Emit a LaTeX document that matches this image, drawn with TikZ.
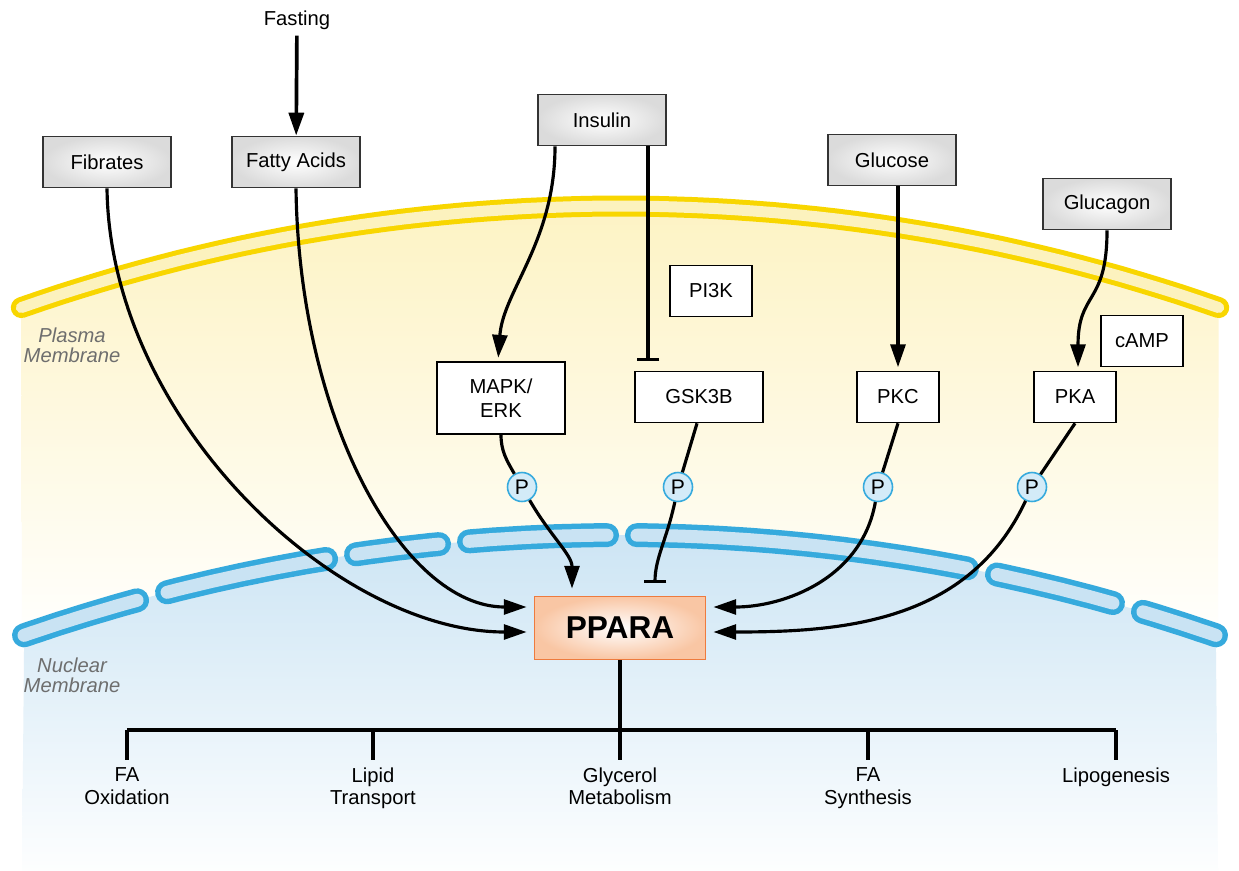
\documentclass[tikz,border=0pt]{standalone}
\usepackage{fontspec}
\setmainfont{Liberation Sans}
\usetikzlibrary{arrows.meta,calc}

\definecolor{plasma}{HTML}{F8D600}
\definecolor{plasmain}{HTML}{FCF2BE}
\definecolor{plasmabg}{HTML}{FDF3C4}
\definecolor{nucline}{HTML}{36AADD}
\definecolor{nucin}{HTML}{C9E3F3}
\definecolor{nucbg}{HTML}{CDE5F4}
\definecolor{pfill}{HTML}{D3EBF8}
\definecolor{pparaline}{HTML}{EE7B3E}
\definecolor{pparafill}{HTML}{F9C6A4}
\definecolor{memtext}{HTML}{6E6E6E}

\tikzset{
  stimbox/.style={draw=black!80, line width=1.1pt, inner color=white,
    outer color=black!14, minimum width=2.56cm, minimum height=1.02cm,
    font=\fontsize{11.5}{13}\selectfont},
  kinbox/.style={draw=black, line width=0.9pt, fill=white, align=center,
    minimum width=1.64cm, minimum height=1.02cm,
    font=\fontsize{11.5}{14}\selectfont},
  phos/.style={circle, draw=nucline, line width=0.9pt, fill=pfill,
    minimum size=0.58cm, inner sep=0pt, font=\fontsize{12}{12}\selectfont},
  ppbox/.style={draw=pparaline, line width=1pt, inner color=white,
    outer color=pparafill, minimum width=3.42cm, minimum height=1.26cm,
    font=\bfseries\fontsize{18}{20}\selectfont},
  memlabel/.style={align=center, text=memtext,
    font=\itshape\fontsize{11.5}{11.5}\selectfont},
  outlabel/.style={anchor=north, align=center, inner sep=4pt,
    font=\fontsize{11.5}{13}\selectfont},
  link/.style={line width=1.8pt},
  act/.style={link, -{Triangle[length=13pt,width=8.5pt]}},
  inh/.style={link, -{Bar[width=13pt]}},
  barline/.style={line width=2.2pt},
  plasmamem/.style={draw=plasma, line width=0.42cm, line cap=round},
  plasmamemin/.style={draw=plasmain, line width=0.22cm, line cap=round},
  nucmem/.style={draw=nucline, line width=0.48cm, line cap=round},
  nucmemin/.style={draw=nucin, line width=0.26cm, line cap=round},
}

\begin{document}
\begin{tikzpicture}[x=0.02cm,y=-0.02cm]
  \useasboundingbox (0,0) rectangle (1239,871);
  \fill[white] (0,0) rectangle (1239,871);

  % cytoplasm and nucleus
  \shade[top color=plasmabg, bottom color=white]
    plot[domain=-19.25:19.25,samples=60] ({620+1816*sin(\x)},{2022-1816*cos(\x)})
    -- (1218,650) -- (22,650) -- cycle;
  \shade[top color=nucbg, bottom color=white!96!nucbg]
    plot[domain=-19.1:19.1,samples=60] ({620+1821*sin(\x)},{2356-1821*cos(\x)})
    -- (1218,871) -- (22,871) -- cycle;

  % plasma membrane
  \draw[plasmamem] plot[domain=-19.25:19.25,samples=60] ({620+1816*sin(\x)},{2022-1816*cos(\x)});
  \draw[plasmamemin] plot[domain=-19.25:19.25,samples=60] ({620+1816*sin(\x)},{2022-1816*cos(\x)});

  % nuclear membrane, in pieces
  \foreach \a/\b in {24/137,167/326,356/439,469/607,637/967,997/1113,1143/1216}{
    \pgfmathsetmacro\ta{asin((\a-620)/1821)}
    \pgfmathsetmacro\tb{asin((\b-620)/1821)}
    \draw[nucmem] plot[domain=\ta:\tb,samples=30] ({620+1821*sin(\x)},{2356-1821*cos(\x)});
    \draw[nucmemin] plot[domain=\ta:\tb,samples=30] ({620+1821*sin(\x)},{2356-1821*cos(\x)});
  }

  \node[memlabel] (plabel) at (72,345) {Plasma\\Membrane};
  \node[memlabel] (nlabel) at (72,675) {Nuclear\\Membrane};

  % stimuli
  \node[font=\fontsize{11.5}{13}\selectfont] (fasting) at (297,20) {Fasting};
  \node[stimbox] (fibrates) at (107,162) {Fibrates};
  \node[stimbox] (fatty) at (296,162) {Fatty Acids};
  \node[stimbox] (insulin) at (602,120) {Insulin};
  \node[stimbox] (glucose) at (892,160) {Glucose};
  \node[stimbox] (glucagon) at (1107,204) {Glucagon};

  % kinases
  \node[kinbox] (pi3k) at (711,291) {PI3K};
  \node[kinbox] (camp) at (1142,341) {cAMP};
  \node[kinbox, minimum width=2.56cm, minimum height=1.44cm] (mapk) at (501,398) {MAPK/\\ERK};
  \node[kinbox, minimum width=2.56cm] (gsk) at (699,397) {GSK3B};
  \node[kinbox] (pkc) at (898,397) {PKC};
  \node[kinbox] (pka) at (1075,397) {PKA};

  \node[phos] (p1) at (522,487) {P};
  \node[phos] (p2) at (678,487) {P};
  \node[phos] (p3) at (878,487) {P};
  \node[phos] (p4) at (1032,487) {P};

  \node[ppbox] (ppara) at (620,628) {PPARA};

  % signalling
  \draw[act, line width=2.1pt] (fasting) -- (fatty);
  \draw[act, shorten >=4pt] (fibrates.south) .. controls +(3,232) and +(-197,0) .. ($(ppara.west)+(0,4)$);
  \draw[act, shorten >=4pt] (fatty.south) .. controls +(3,232) and +(-130,0) .. ($(ppara.west)+(0,-21)$);
  \coordinate (insL) at ($(insulin.south)+(-47,0)$);
  \coordinate (insR) at ($(insulin.south)+(46,0)$);
  \draw[act, shorten >=2pt] (insL) .. controls +(0,95) and +(5,-70) .. ($(mapk.north)+(-3,0)$);
  \draw[inh, shorten >=5.5pt] (insR) -- (insR |- gsk.north);
  \draw[act, shorten >=2pt] (glucose.south -| pkc.north) -- (pkc.north);
  \draw[act, shorten >=2pt] (glucagon.south) .. controls +(0,75) and +(0,-80) .. ($(pka.north)+(3,0)$);

  \draw[link] (mapk.south) to[out=-90,in=120] (p1);
  \draw[link] ($(gsk.south)+(-2,0)$) -- (p2);
  \draw[link] (pkc.south) -- (p3);
  \draw[link] (pka.south) -- (p4);

  \draw[act, shorten >=4pt] (p1) to[out=-60,in=90] ($(ppara.north)+(-48,0)$);
  \draw[inh, shorten >=7pt] (p2) to[out=-102,in=90] ($(ppara.north)+(35,0)$);
  \draw[act, shorten >=4pt] (p3) to[out=-100,in=0] ($(ppara.east)+(0,-21)$);
  \draw[act, shorten >=4pt] (p4) to[out=-115,in=0] ($(ppara.east)+(0,4)$);

  % targets
  \coordinate (bl) at (127,730);
  \coordinate (br) at (1116,730);
  \draw[link] (ppara.south) -- (ppara.south |- bl);
  \draw[barline] (bl) -- (br);
  \foreach \name/\px/\txt in {faox/127/{FA\\Oxidation},lipid/373/{Lipid\\Transport},
      glyc/620/{Glycerol\\Metabolism},fasyn/868/{FA\\Synthesis},lipo/1116/{Lipogenesis}}{
    \node[outlabel] (\name) at (\px,760) {\txt};
    \draw[link] (\name.north |- bl) -- (\name.north);
  }
\end{tikzpicture}
\end{document}
